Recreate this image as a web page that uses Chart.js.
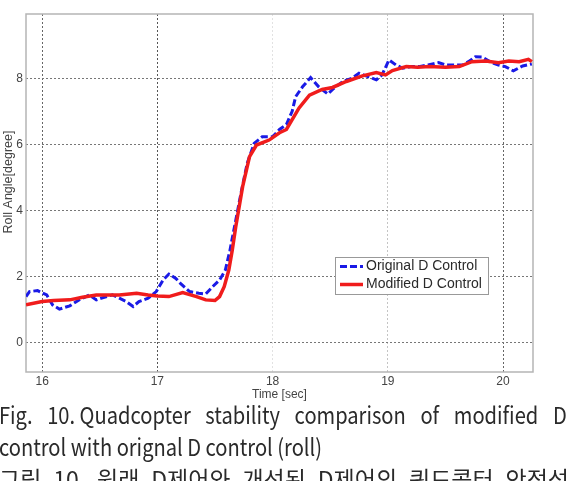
<!DOCTYPE html>
<html>
<head>
<meta charset="utf-8">
<script src="https://cdn.jsdelivr.net/npm/chart.js@4.4.1/dist/chart.umd.min.js"></script>
<style>
  html, body { margin: 0; padding: 0; background: #fff; }
  #wrap { position: relative; width: 569px; height: 481px; overflow: hidden; }
  canvas { position: absolute; left: 0; top: 0; }
  .cap { position: absolute; font-family: "Noto Sans CJK KR", "Noto Sans", sans-serif; font-size: 23.5px;
         line-height: 32px; color: #2a2a2a; white-space: nowrap; transform-origin: 0 0; }
  .sx { transform: scaleX(0.855); }
  .j { text-align: justify; text-align-last: justify; white-space: normal; }
  .nb { display: inline-block; white-space: nowrap; }
</style>
</head>
<body>
<div id="wrap">
  <canvas id="c" width="569" height="481"></canvas>
  <div class="cap j sx" style="left:-1px; top:398px; width:664px;">Fig. <span class="nb">10. Quadcopter</span> stability comparison of modified D</div>
  <div class="cap sx" style="left:-1px; top:430px;">control with orignal D control (roll)</div>
  <div class="cap j" style="left:-1px; top:462px; width:570px; font-size:23px;">그림 10. 원래 D제어와 개선된 D제어의 쿼드콥터 안정성</div>
</div>
<script>
// ---- data ----
const xTicks = [16, 17, 18, 19, 20];
const yTicks = [0, 2, 4, 6, 8];
const xTitle = "Time [sec]";
const yTitle = "Roll Angle[degree]";
const seriesNames = ["Original D Control", "Modified D Control"];

const origTime = [15.86, 15.89, 15.96, 16.04, 16.09, 16.15, 16.24, 16.32, 16.41, 16.47, 16.51, 16.61, 16.67, 16.73, 16.79, 16.84, 16.92, 16.99, 17.05, 17.10, 17.16, 17.20, 17.28, 17.36, 17.42, 17.48, 17.54, 17.59, 17.63, 17.68, 17.73, 17.78, 17.84, 17.91, 18.00, 18.06, 18.12, 18.17, 18.20, 18.26, 18.33, 18.40, 18.48, 18.53, 18.61, 18.69, 18.75, 18.84, 18.90, 18.95, 19.01, 19.07, 19.13, 19.20, 19.27, 19.35, 19.44, 19.50, 19.56, 19.65, 19.70, 19.76, 19.82, 19.90, 19.96, 20.02, 20.09, 20.17, 20.25];
const origRoll = [1.40, 1.55, 1.58, 1.45, 1.15, 1.02, 1.12, 1.30, 1.45, 1.30, 1.35, 1.45, 1.35, 1.25, 1.10, 1.25, 1.35, 1.55, 1.90, 2.08, 1.95, 1.80, 1.55, 1.50, 1.48, 1.70, 1.90, 2.20, 2.80, 3.70, 4.60, 5.43, 6.03, 6.23, 6.23, 6.45, 6.60, 7.00, 7.44, 7.74, 8.02, 7.74, 7.52, 7.69, 7.90, 8.00, 8.15, 8.03, 7.95, 8.10, 8.55, 8.40, 8.30, 8.35, 8.35, 8.40, 8.47, 8.40, 8.40, 8.40, 8.50, 8.65, 8.64, 8.47, 8.40, 8.35, 8.22, 8.37, 8.43];

const modTime = [15.86, 16.00, 16.10, 16.24, 16.35, 16.47, 16.58, 16.67, 16.82, 16.92, 17.00, 17.10, 17.22, 17.34, 17.42, 17.50, 17.54, 17.58, 17.62, 17.65, 17.68, 17.74, 17.80, 17.86, 17.97, 18.06, 18.12, 18.17, 18.23, 18.32, 18.43, 18.52, 18.64, 18.78, 18.90, 18.98, 19.04, 19.16, 19.26, 19.36, 19.50, 19.62, 19.73, 19.85, 19.96, 20.05, 20.14, 20.22, 20.25];
const modRoll = [1.15, 1.25, 1.28, 1.30, 1.38, 1.45, 1.45, 1.45, 1.50, 1.45, 1.42, 1.40, 1.52, 1.40, 1.30, 1.28, 1.40, 1.70, 2.20, 2.80, 3.50, 4.72, 5.63, 5.98, 6.13, 6.35, 6.45, 6.75, 7.10, 7.49, 7.66, 7.72, 7.90, 8.07, 8.17, 8.10, 8.23, 8.35, 8.33, 8.35, 8.33, 8.35, 8.50, 8.52, 8.47, 8.52, 8.50, 8.57, 8.50];

const blue = '#1a1ae6';
const red = '#f01c1c';

const toPts = (ts, vs) => ts.map((t, i) => ({ x: t, y: vs[i] }));

const xGridColors = { 16: '#666', 17: '#555', 18: '#e2e2e2', 19: '#c4c4c4', 20: '#666' };

const framePlugin = {
  id: 'frame',
  beforeDatasetsDraw(chart) {
    const { ctx, chartArea: a } = chart;
    ctx.save();
    ctx.strokeStyle = '#b5b5b5';
    ctx.lineWidth = 1.5;
    ctx.strokeRect(a.left, a.top, a.right - a.left, a.bottom - a.top);
    ctx.restore();
  },
  afterDraw(chart) {
    const { ctx } = chart;
    // y axis title
    ctx.save();
    ctx.font = '12.5px "Liberation Sans", Arial, sans-serif';
    ctx.fillStyle = '#444';
    ctx.translate(8.5, 182);
    ctx.rotate(-Math.PI / 2);
    ctx.textAlign = 'center';
    ctx.textBaseline = 'middle';
    ctx.fillText(yTitle, 0, 0);
    ctx.restore();
    // legend box
    const ds = chart.data.datasets;
    const bx = 335, by = 257, bw = 153, bh = 37;
    ctx.save();
    ctx.fillStyle = '#fff';
    ctx.fillRect(bx, by, bw, bh);
    ctx.strokeStyle = '#999';
    ctx.lineWidth = 1;
    ctx.strokeRect(bx + 0.5, by + 0.5, bw, bh);
    ctx.font = '14px "Liberation Sans", Arial, sans-serif';
    ctx.textBaseline = 'middle';
    ds.forEach((d, i) => {
      const yy = by + 9.5 + i * 18;
      ctx.strokeStyle = d.borderColor;
      ctx.lineWidth = d.borderWidth;
      ctx.setLineDash(d.borderDash || []);
      ctx.beginPath();
      ctx.moveTo(bx + 5, yy);
      ctx.lineTo(bx + 28, yy);
      ctx.stroke();
      ctx.setLineDash([]);
      ctx.fillStyle = '#2a2a2a';
      ctx.fillText(d.label, bx + 31, yy);
    });
    ctx.restore();
  }
};

new Chart(document.getElementById('c'), {
  type: 'line',
  data: {
    datasets: [
      { label: seriesNames[0], data: toPts(origTime, origRoll), borderColor: blue, borderWidth: 3,
        borderDash: [7, 3], pointRadius: 0, tension: 0, order: 1, fill: false },
      { label: seriesNames[1], data: toPts(modTime, modRoll), borderColor: red, borderWidth: 3.5,
        pointRadius: 0, tension: 0, order: 0, fill: false }
    ]
  },
  options: {
    responsive: false,
    devicePixelRatio: 1,
    animation: false,
    layout: { padding: { top: 14, right: 36, left: 0, bottom: 79 } },
    plugins: { legend: { display: false }, tooltip: { enabled: false } },
    scales: {
      x: {
        type: 'linear', min: 15.86, max: 20.26,
        afterBuildTicks: s => { s.ticks = xTicks.map(v => ({ value: v })); },
        afterFit: s => { s.height = 30; },
        grid: { color: c => xGridColors[c.tick.value] || '#777', lineWidth: 1, drawTicks: false },
        border: { display: false, dash: [2, 2] },
        ticks: { padding: 2, font: { size: 12, family: '"Liberation Sans", Arial, sans-serif' }, color: '#444', maxRotation: 0, autoSkip: false },
        title: { display: true, text: xTitle, padding: 0, color: '#444', font: { size: 12, family: '"Liberation Sans", Arial, sans-serif' } }
      },
      y: {
        type: 'linear', min: -0.88, max: 9.94,
        afterBuildTicks: s => { s.ticks = yTicks.map(v => ({ value: v })); },
        afterFit: s => { s.width = 26; },
        grid: { color: '#777', lineWidth: 1, drawTicks: false },
        border: { display: false, dash: [2, 2] },
        ticks: { padding: 3, font: { size: 12, family: '"Liberation Sans", Arial, sans-serif' }, color: '#444', autoSkip: false }
      }
    }
  },
  plugins: [framePlugin]
});
</script>
</body>
</html>
